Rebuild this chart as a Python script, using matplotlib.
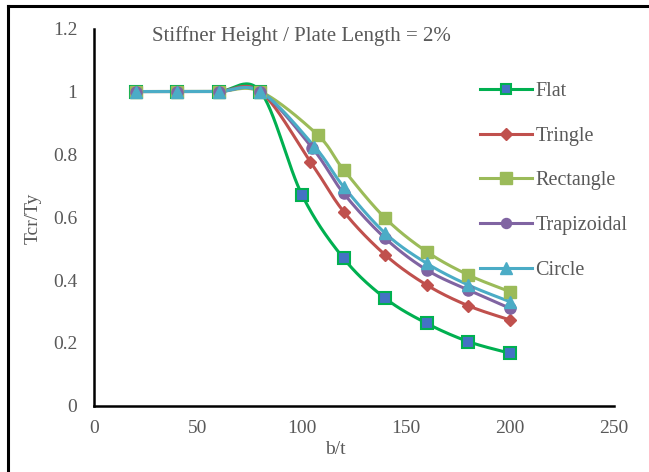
import numpy as np
import matplotlib
matplotlib.use("Agg")
import matplotlib.pyplot as plt
from matplotlib.lines import Line2D

# ---- data ----
x_flat = [20, 40, 60, 80, 100, 120, 140, 160, 180, 200]
y_flat = [1, 1, 1, 1, 0.671, 0.469, 0.342, 0.262, 0.204, 0.167]

x_tri = [20, 40, 60, 80, 104, 120, 140, 160, 180, 200]
y_tri = [1, 1, 1, 1, 0.777, 0.618, 0.480, 0.384, 0.318, 0.273]

x_rect = [20, 40, 60, 80, 107.5, 120, 140, 160, 180, 200]
y_rect = [1, 1, 1, 1, 0.862, 0.751, 0.597, 0.490, 0.416, 0.363]

x_trap = [20, 40, 60, 80, 105, 120, 140, 160, 180, 200]
y_trap = [1, 1, 1, 1, 0.820, 0.676, 0.533, 0.432, 0.368, 0.310]

x_circ = [20, 40, 60, 80, 106, 120, 140, 160, 180, 200]
y_circ = [1, 1, 1, 1, 0.825, 0.697, 0.549, 0.453, 0.384, 0.331]

series_names = ["Flat", "Tringle", "Rectangle", "Trapizoidal", "Circle"]
x_ticks = [0, 50, 100, 150, 200, 250]
y_ticks = [0, 0.2, 0.4, 0.6, 0.8, 1, 1.2]
y_tick_labels = ["0", "0.2", "0.4", "0.6", "0.8", "1", "1.2"]

XMAX, YMAX = 250, 1.2
SX, SY = 520.0, 377.0  # pixel extent used for smoothing aspect

SERIF = "Liberation Serif"
TXT = "#595959"


def smooth(xs, ys, n=30):
    """Excel-like smoothing (Catmull-Rom Bezier) in display-aspect space."""
    px = np.asarray(xs, float) / XMAX * SX
    py = np.asarray(ys, float) / YMAX * SY
    P = np.column_stack([px, py])
    out = [P[0]]
    m = len(P)
    for i in range(m - 1):
        p0 = P[i - 1] if i > 0 else P[i]
        p1 = P[i]
        p2 = P[i + 1]
        p3 = P[i + 2] if i + 2 < m else P[i + 1]
        c1 = p1 + (p2 - p0) / 6.0
        c2 = p2 - (p3 - p1) / 6.0
        t = np.linspace(0, 1, n)[1:, None]
        b = ((1 - t) ** 3) * p1 + 3 * ((1 - t) ** 2) * t * c1 + 3 * (1 - t) * t ** 2 * c2 + t ** 3 * p2
        out.extend(b)
    out = np.array(out)
    return out[:, 0] / SX * XMAX, out[:, 1] / SY * YMAX


fig = plt.figure(figsize=(6.49, 4.72), dpi=100)
ax = fig.add_axes([94 / 649, 1 - 405.7 / 472, 520 / 649, 377 / 472])

styles = [
    dict(color="#00B050", marker="s", mfc="#4472C4", mec="#00B050", ms=8.5, mew=1.5),
    dict(color="#C0504D", marker="D", mfc="#C0504D", mec="#C0504D", ms=6.3, mew=1),
    dict(color="#9BBB59", marker="s", mfc="#9BBB59", mec="#9BBB59", ms=9, mew=1),
    dict(color="#8064A2", marker="o", mfc="#8064A2", mec="#8064A2", ms=8, mew=1),
    dict(color="#4BACC6", marker="^", mfc="#4BACC6", mec="#4BACC6", ms=9, mew=1),
]
data = [(x_flat, y_flat), (x_tri, y_tri), (x_rect, y_rect), (x_trap, y_trap), (x_circ, y_circ)]

handles = []
for (xs, ys), st, name in zip(data, styles, series_names):
    sx, sy = smooth(xs, ys)
    ax.plot(sx, sy, color=st["color"], lw=2.2, solid_capstyle="round", zorder=2)
    ax.plot(xs, ys, ls="none", marker=st["marker"], mfc=st["mfc"], mec=st["mec"],
            ms=st["ms"], mew=st["mew"], zorder=3)
    handles.append(Line2D([], [], color=st["color"], lw=2.2, marker=st["marker"],
                          mfc=st["mfc"], mec=st["mec"], ms=st["ms"] * 0.9, mew=st["mew"]))

ax.set_xlim(0, XMAX)
ax.set_ylim(0, YMAX)
ax.set_xticks(x_ticks)
ax.set_yticks(y_ticks)
ax.set_yticklabels(y_tick_labels)
ax.tick_params(length=0, labelsize=14, labelcolor=TXT)
ax.tick_params(axis="y", pad=12)
ax.tick_params(axis="x", pad=10)
for lab in ax.get_xticklabels() + ax.get_yticklabels():
    lab.set_fontfamily(SERIF)
for s in ["top", "right"]:
    ax.spines[s].set_visible(False)
for s in ["left", "bottom"]:
    ax.spines[s].set_linewidth(1.8)
    ax.spines[s].set_color("black")

fig.text(335 / 649, 1 - 449 / 472, "b/t", ha="center", va="center",
         family=SERIF, fontsize=14, color=TXT)
fig.text(33 / 649, 1 - 218 / 472, "Tcr/Ty", rotation=90, ha="center", va="center",
         family=SERIF, fontsize=14, color=TXT)
fig.text(152 / 649, 1 - 36 / 472, "Stiffner Height / Plate Length = 2%", ha="left", va="center",
         family=SERIF, fontsize=15, color=TXT)

leg = fig.legend(handles, series_names, loc="upper left",
                 bbox_to_anchor=(480 / 649, 1 - 82 / 472), frameon=False,
                 prop=dict(family=SERIF, size=14.5), labelcolor=TXT,
                 handlelength=2.6, handletextpad=0.15, labelspacing=1.27, borderpad=0,
                 borderaxespad=0)

# outer frame (left and top border)
fig.add_artist(Line2D([8 / 649, 8 / 649], [0, 1 - 6 / 472], color="black", lw=2.2,
                      transform=fig.transFigure))
fig.add_artist(Line2D([8 / 649, 1], [1 - 6 / 472, 1 - 6 / 472], color="black", lw=2.2,
                      transform=fig.transFigure))

fig.savefig("out.png", dpi=100)
